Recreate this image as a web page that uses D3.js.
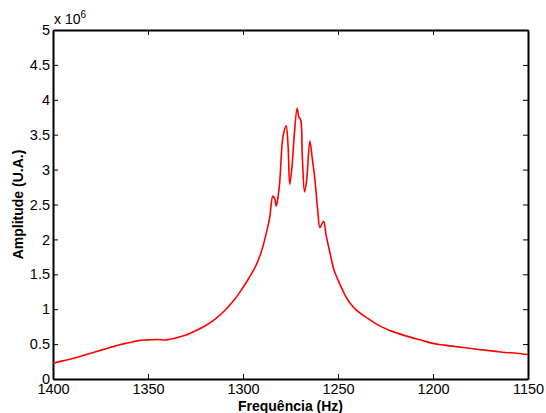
<!DOCTYPE html>
<html>
<head>
<meta charset="utf-8">
<script src="https://cdn.jsdelivr.net/npm/d3@7"></script>
<style>
  body { margin: 0; background: #fff; }
  svg { display: block; font-family: "Liberation Sans", Arial, sans-serif; }
</style>
</head>
<body>
<div id="chart"></div>
<script>
// spectrum (Hz, amplitude in units of 1e6)
const freqs = [1400, 1395, 1390, 1385, 1380, 1375, 1370, 1365, 1360, 1355, 1350, 1345, 1340, 1335,
  1330, 1325, 1320, 1315, 1310, 1305, 1301, 1297, 1294, 1291, 1289, 1287.5, 1286, 1284.3, 1283.3,
  1282.5, 1281.5, 1280.6, 1279.6, 1278.9, 1277.3, 1276.3, 1275.4, 1274.2, 1273, 1271.5, 1270.6,
  1269.7, 1268.8, 1267.6, 1266.5, 1264.8, 1263.5, 1262.3, 1260.6, 1259.5, 1257.6, 1256.2, 1254,
  1252.2, 1250, 1247, 1244, 1240, 1235, 1230, 1224, 1218, 1212, 1206, 1200, 1194, 1187, 1181,
  1175, 1168, 1162, 1156, 1150];
const amps = [0.225, 0.26, 0.29, 0.33, 0.37, 0.41, 0.45, 0.49, 0.52, 0.55, 0.56, 0.565, 0.56, 0.59,
  0.63, 0.69, 0.76, 0.85, 0.97, 1.12, 1.27, 1.44, 1.58, 1.77, 1.95, 2.12, 2.3, 2.62, 2.58,
  2.48, 2.62, 2.85, 3.3, 3.48, 3.63, 3.35, 2.79, 3.05, 3.5, 3.88, 3.75, 3.72, 3.2, 2.68, 2.85,
  3.41, 3.15, 2.9, 2.4, 2.17, 2.26, 2.05, 1.78, 1.57, 1.42, 1.24, 1.1, 0.98, 0.88, 0.79, 0.71,
  0.65, 0.6, 0.555, 0.51, 0.485, 0.46, 0.44, 0.42, 0.4, 0.38, 0.37, 0.35];
const xTicks = [1400, 1350, 1300, 1250, 1200, 1150];
const yTicks = [0, 0.5, 1, 1.5, 2, 2.5, 3, 3.5, 4, 4.5, 5];

const W = 546, H = 413;
const margin = { top: 30, right: 18, bottom: 34, left: 53 };
const width = W - margin.left - margin.right,
      height = H - margin.top - margin.bottom;

const svg = d3.select("#chart").append("svg")
  .attr("width", W).attr("height", H);
const g = svg.append("g")
  .attr("transform", `translate(${margin.left},${margin.top})`);

const x = d3.scaleLinear().domain([1400, 1150]).range([0, width]);
const y = d3.scaleLinear().domain([0, 5]).range([height, 0]);

const data = freqs.map((f, i) => ({ f: f, a: amps[i] }));

// axes, matlab style ticks pointing in
const fmt = d => String(d);
const axB = g.append("g").attr("transform", `translate(0,${height})`)
  .call(d3.axisBottom(x).tickValues(xTicks).tickFormat(fmt).tickSizeInner(-5).tickSizeOuter(0).tickPadding(5));
const axL = g.append("g")
  .call(d3.axisLeft(y).tickValues(yTicks).tickFormat(fmt).tickSizeInner(-5).tickSizeOuter(0).tickPadding(3));
const axT = g.append("g")
  .call(d3.axisTop(x).tickValues(xTicks).tickFormat("").tickSizeInner(-5).tickSizeOuter(0));
const axR = g.append("g").attr("transform", `translate(${width},0)`)
  .call(d3.axisRight(y).tickValues(yTicks).tickFormat("").tickSizeInner(-5).tickSizeOuter(0));

[axB, axL, axT, axR].forEach(a => {
  a.select(".domain").attr("stroke", "#000").attr("stroke-width", 2);
  a.selectAll(".tick line").attr("stroke", "#000").attr("stroke-width", 1);
  a.selectAll(".tick text").attr("font-size", "14.5px").attr("fill", "#000")
    .attr("font-family", "Liberation Sans, Arial, sans-serif");
});

// curve
const line = d3.line()
  .x(d => x(d.f))
  .y(d => y(d.a))
  .curve(d3.curveCatmullRom.alpha(0.5));

g.append("path")
  .datum(data)
  .attr("fill", "none")
  .attr("stroke", "#ff0000")
  .attr("stroke-width", 1.6)
  .attr("d", line);

// exponent label
const ex = g.append("text")
  .attr("x", 1).attr("y", -6)
  .attr("font-size", "14px");
ex.append("tspan").text("x 10");
ex.append("tspan").attr("dy", -6).attr("font-size", "10px").text("6");

// axis titles
svg.append("text")
  .attr("x", margin.left + width / 2)
  .attr("y", 411)
  .attr("text-anchor", "middle")
  .attr("font-size", "14px")
  .attr("font-weight", "bold")
  .text("Frequência (Hz)");

svg.append("text")
  .attr("transform", `translate(23,${margin.top + height / 2}) rotate(-90)`)
  .attr("text-anchor", "middle")
  .attr("font-size", "14px")
  .attr("font-weight", "bold")
  .text("Amplitude (U.A.)");
</script>
</body>
</html>
